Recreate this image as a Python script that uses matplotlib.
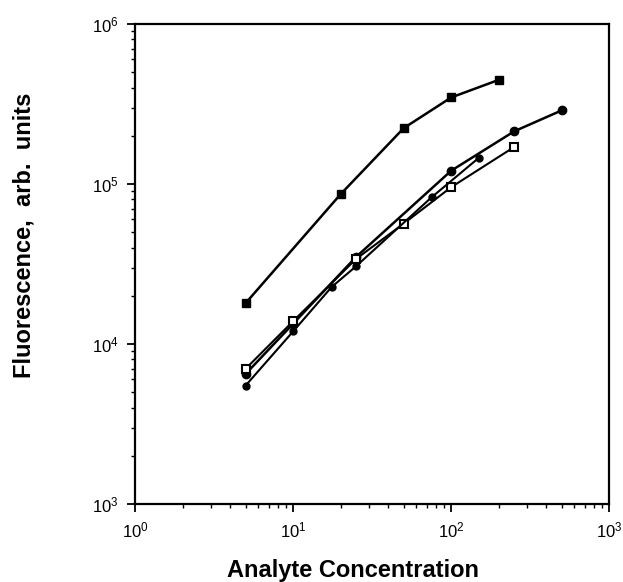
import matplotlib
matplotlib.use("Agg")
import matplotlib.pyplot as plt
from matplotlib.ticker import LogLocator, FuncFormatter, NullFormatter

plt.rcParams["font.family"] = ["Liberation Sans", "DejaVu Sans"]
plt.rcParams["mathtext.fontset"] = "custom"
plt.rcParams["mathtext.rm"] = "Liberation Sans"

# series (concentration, fluorescence)
xA = [5, 20, 50, 100, 200]
yA = [18000, 86500, 223000, 347000, 447000]

xB = [5, 10, 25, 100, 250, 500]
yB = [6500, 13400, 35000, 121000, 213000, 288000]

xC = [5, 10, 25, 50, 100, 250]
yC = [7000, 13900, 34000, 56500, 95500, 170000]

xD = [5, 10, 17.5, 25, 75, 150]
yD = [5500, 12000, 22700, 30600, 82400, 146000]

fig = plt.figure(figsize=(6.23, 5.82), dpi=100)
ax = fig.add_axes([0.217, 0.134, 0.761, 0.825])

ax.plot(xA, yA, color="black", lw=1.8, marker="s", ms=6, mfc="black", mec="black")
ax.plot(xB, yB, color="black", lw=1.8, marker="o", ms=6, mfc="black", mec="black")
ax.plot(xC, yC, color="black", lw=1.5, marker="s", ms=6, mfc="white", mec="black", mew=1.5)
ax.plot(xD, yD, color="black", lw=1.5, marker="o", ms=5, mfc="black", mec="black")

ax.set_xscale("log")
ax.set_yscale("log")
ax.set_xlim(1, 1000)
ax.set_ylim(1e3, 1e6)

fmt = FuncFormatter(lambda v, p: r"$\mathregular{10^{%d}}$" % round(__import__("math").log10(v)))
for axis in (ax.xaxis, ax.yaxis):
    axis.set_major_locator(LogLocator(base=10, numticks=10))
    axis.set_minor_locator(LogLocator(base=10, subs=range(2, 10), numticks=10))
    axis.set_major_formatter(fmt)
    axis.set_minor_formatter(NullFormatter())

ax.tick_params(which="major", direction="out", length=6, width=1.3, labelsize=12, pad=6)
ax.tick_params(which="minor", direction="out", length=3, width=1.0)
for s in ax.spines.values():
    s.set_linewidth(1.6)

ax.set_xlabel("Analyte Concentration", fontsize=17, fontweight="bold", labelpad=16)
ax.set_ylabel("Fluorescence,  arb.  units", fontsize=17, fontweight="bold", labelpad=22)
ax.xaxis.set_label_coords(0.46, -0.115)
ax.yaxis.set_label_coords(-0.21, 0.56)

fig.savefig("out.png", dpi=100)
